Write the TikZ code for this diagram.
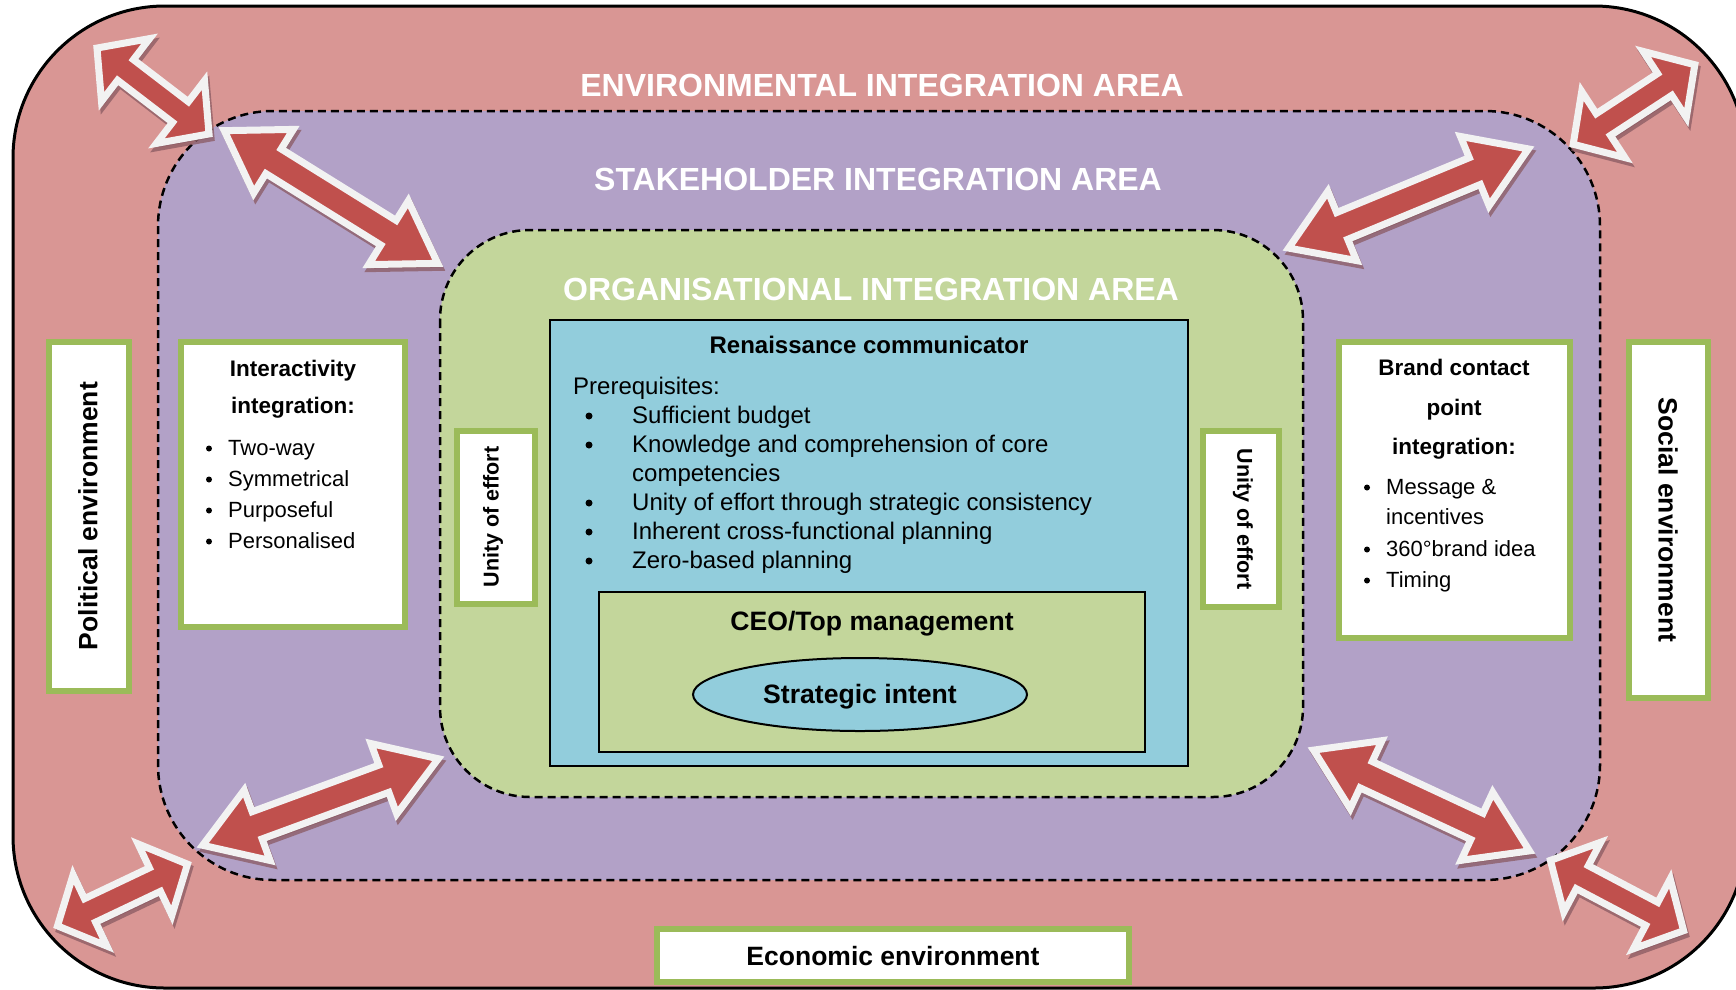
\documentclass[tikz,border=0pt]{standalone}
\usepackage{fontspec}
\setmainfont{Liberation Sans}
\usetikzlibrary{calc,shapes.geometric}
\definecolor{pinkbg}{HTML}{D99694}
\definecolor{purplebg}{HTML}{B2A1C7}
\definecolor{greenbg}{HTML}{C3D69B}
\definecolor{bluebg}{HTML}{92CDDC}
\definecolor{boxgreen}{HTML}{9BBB59}
\definecolor{arrred}{HTML}{C0504D}
\definecolor{arrwhite}{HTML}{F2F2F2}
\definecolor{shadowc}{HTML}{8A5A62}
\newcommand\myfs[1]{\fontsize{#1}{#1}\selectfont}
\newcommand\dblarr[7]{%
  \pgfmathsetmacro\adx{#3-#1}%
  \pgfmathsetmacro\ady{#2-#4}%
  \pgfmathsetmacro\afull{veclen(\adx,\ady)}%
  \pgfmathsetmacro\alen{\afull-10}%
  \pgfmathsetmacro\aang{atan2(\ady,\adx)}%
  \pgfmathsetmacro\ax{#1+5*\adx/\afull}%
  \pgfmathsetmacro\ay{-#2+5*\ady/\afull}%
  \pgfmathsetmacro\aB{\alen-#5}%
  \begin{scope}[shift={({\ax pt+2pt},{\ay pt-4pt})},rotate=\aang,x=1pt,y=1pt]
    \path[arrshadow] (0,0) -- (#5,#6) -- (#5,#7) -- (\aB,#7) -- (\aB,#6) -- (\alen,0)
      -- (\aB,-#6) -- (\aB,-#7) -- (#5,-#7) -- (#5,-#6) -- cycle;
  \end{scope}
  \begin{scope}[shift={(\ax pt,\ay pt)},rotate=\aang,x=1pt,y=1pt]
    \path[arrbody] (0,0) -- (#5,#6) -- (#5,#7) -- (\aB,#7) -- (\aB,#6) -- (\alen,0)
      -- (\aB,-#6) -- (\aB,-#7) -- (#5,-#7) -- (#5,-#6) -- cycle;
  \end{scope}}
\begin{document}
\begin{tikzpicture}[x=1pt,y=-1pt,
  areatitle/.style={font=\myfs{32}\bfseries, text=white, anchor=base, inner sep=0pt},
  gbox/.style={draw=boxgreen, line width=6pt, fill=white, inner sep=0pt},
  blk/.style={draw=black, line width=2pt, inner sep=0pt},
  zone/.style={line width=2.5pt, dash pattern=on 8pt off 5pt},
  bodytxt/.style={font=\myfs{24}, anchor=base west, inner sep=0pt},
  bigdot/.style={circle, fill=black, inner sep=0pt, minimum size=7pt},
  smalldot/.style={circle, fill=black, inner sep=0pt, minimum size=6pt},
  smalltxt/.style={font=\myfs{22}, anchor=base west, inner sep=0pt},
  headtxt/.style={font=\myfs{22.5}\bfseries, anchor=base, inner sep=0pt},
  envtxt/.style={font=\myfs{26.5}\bfseries, inner sep=0pt},
  uoe/.style={font=\myfs{21.5}\bfseries, inner sep=0pt},
  arrshadow/.style={fill=shadowc, draw=shadowc, line width=7pt, line join=miter, opacity=0.75},
  arrbody/.style={fill=arrred, draw=arrwhite, line width=7pt, line join=miter}]
\useasboundingbox (0,0) rectangle (1736,989);
\begin{scope}
\clip (0,0) rectangle (1736,989);
\draw[fill=pinkbg, line width=3pt, rounded corners=152pt] (13,6) rectangle (1746,988);
\end{scope}
% stakeholder area
\draw[zone, fill=purplebg, rounded corners=115pt] (158,111) rectangle (1600,880);
% organisational area
\draw[zone, fill=greenbg, rounded corners=90pt] (440,230) rectangle (1303,797);

% titles
\node[areatitle] (envt) at (882,96) {ENVIRONMENTAL INTEGRATION AREA};
\node[areatitle] (stkt) at (878,190) {STAKEHOLDER INTEGRATION AREA};
\node[areatitle] (orgt) at (871,300) {ORGANISATIONAL INTEGRATION AREA};

% renaissance communicator box
\node[blk, fill=bluebg, minimum width=638pt, minimum height=446pt] (ren) at (869,543) {};
\node[font=\myfs{24}\bfseries, anchor=base, inner sep=0pt] (rent) at (869,353) {Renaissance communicator};
\node[bodytxt] (pre) at (573,394) {Prerequisites:};
\foreach \yy/\tt [count=\i] in {423/Sufficient budget,
    452/Knowledge and comprehension of core,
    510/Unity of effort through strategic consistency,
    539/Inherent cross-functional planning,
    568/Zero-based planning}{
  \node[bigdot] (rb\i) at (589,\yy-7) {};
  \node[bodytxt] (ri\i) at (632,\yy) {\tt};
}
\node[bodytxt] (ri2b) at (632,481) {competencies};

% CEO box
\node[blk, fill=greenbg, minimum width=546pt, minimum height=160pt] (ceo) at (872,672) {};
\node[font=\myfs{26.6}\bfseries, anchor=base, inner sep=0pt] (ceot) at (872,630) {CEO/Top management};
\node[blk, ellipse, fill=bluebg, minimum width=334pt, minimum height=73pt] (si) at (860,694.5) {};
\node[font=\myfs{26.6}\bfseries, anchor=base, inner sep=0pt] (sit) at (860,703) {Strategic intent};

% unity of effort boxes
\node[gbox, minimum width=78pt, minimum height=173pt] (uL) at (496,517.5) {};
\node[uoe, rotate=90] (uLt) at (493,517) {Unity of effort};
\node[gbox, minimum width=76pt, minimum height=176pt] (uR) at (1241,519) {};
\node[uoe, rotate=-90] (uRt) at (1243,519) {Unity of effort};

% interactivity integration
\node[gbox, minimum width=224pt, minimum height=285pt] (inter) at (293,484.5) {};
\node[headtxt] (ih1) at (293,376) {Interactivity};
\node[headtxt] (ih2) at (293,413) {integration:};
\foreach \yy/\tt [count=\i] in {455/Two-way, 486/Symmetrical, 517/Purposeful, 548/Personalised}{
  \node[smalldot] (ib\i) at (209,\yy-6.5) {};
  \node[smalltxt] (ii\i) at (228,\yy) {\tt};
}

% brand contact point integration
\node[gbox, minimum width=231pt, minimum height=296pt] (brand) at (1454.5,490) {};
\node[headtxt] (bh1) at (1454,375) {Brand contact};
\node[headtxt] (bh2) at (1454,415) {point};
\node[headtxt] (bh3) at (1454,454) {integration:};
\node[smalldot] (bb1) at (1367,487.5) {};
\node[smalltxt] (bi1) at (1386,494) {Message \&};
\node[smalltxt] (bi1b) at (1386,524) {incentives};
\node[smalldot] (bb2) at (1367,549.5) {};
\node[smalltxt] (bi2) at (1386,556) {360°brand idea};
\node[smalldot] (bb3) at (1367,580.5) {};
\node[smalltxt] (bi3) at (1386,587) {Timing};

% environments
\node[gbox, minimum width=80pt, minimum height=349pt] (pol) at (89,516.5) {};
\node[envtxt, rotate=90] (polt) at (88,516) {Political environment};
\node[gbox, minimum width=79pt, minimum height=356pt] (soc) at (1668.5,520) {};
\node[envtxt, rotate=-90] (soct) at (1668,520) {Social environment};
\node[gbox, minimum width=472pt, minimum height=53pt] (eco) at (893,955.5) {};
\node[envtxt, anchor=base] (ecot) at (893,965) {Economic environment};

% double arrows
\dblarr{93}{45}{213}{137}{36}{39.5}{13}
\dblarr{220}{128}{442}{266}{58}{37.5}{14.5}
\dblarr{1284}{250}{1533}{147}{58}{37.5}{14.5}
\dblarr{1569}{147}{1699}{62}{36}{39.5}{13}
\dblarr{53}{928}{192}{862}{36}{39.5}{13}
\dblarr{198}{847}{443}{757}{58}{37.5}{14.5}
\dblarr{1309}{748}{1534}{853}{58}{37.5}{14.5}
\dblarr{1546}{858}{1688}{933}{36}{39.5}{13}
\end{tikzpicture}
\end{document}
